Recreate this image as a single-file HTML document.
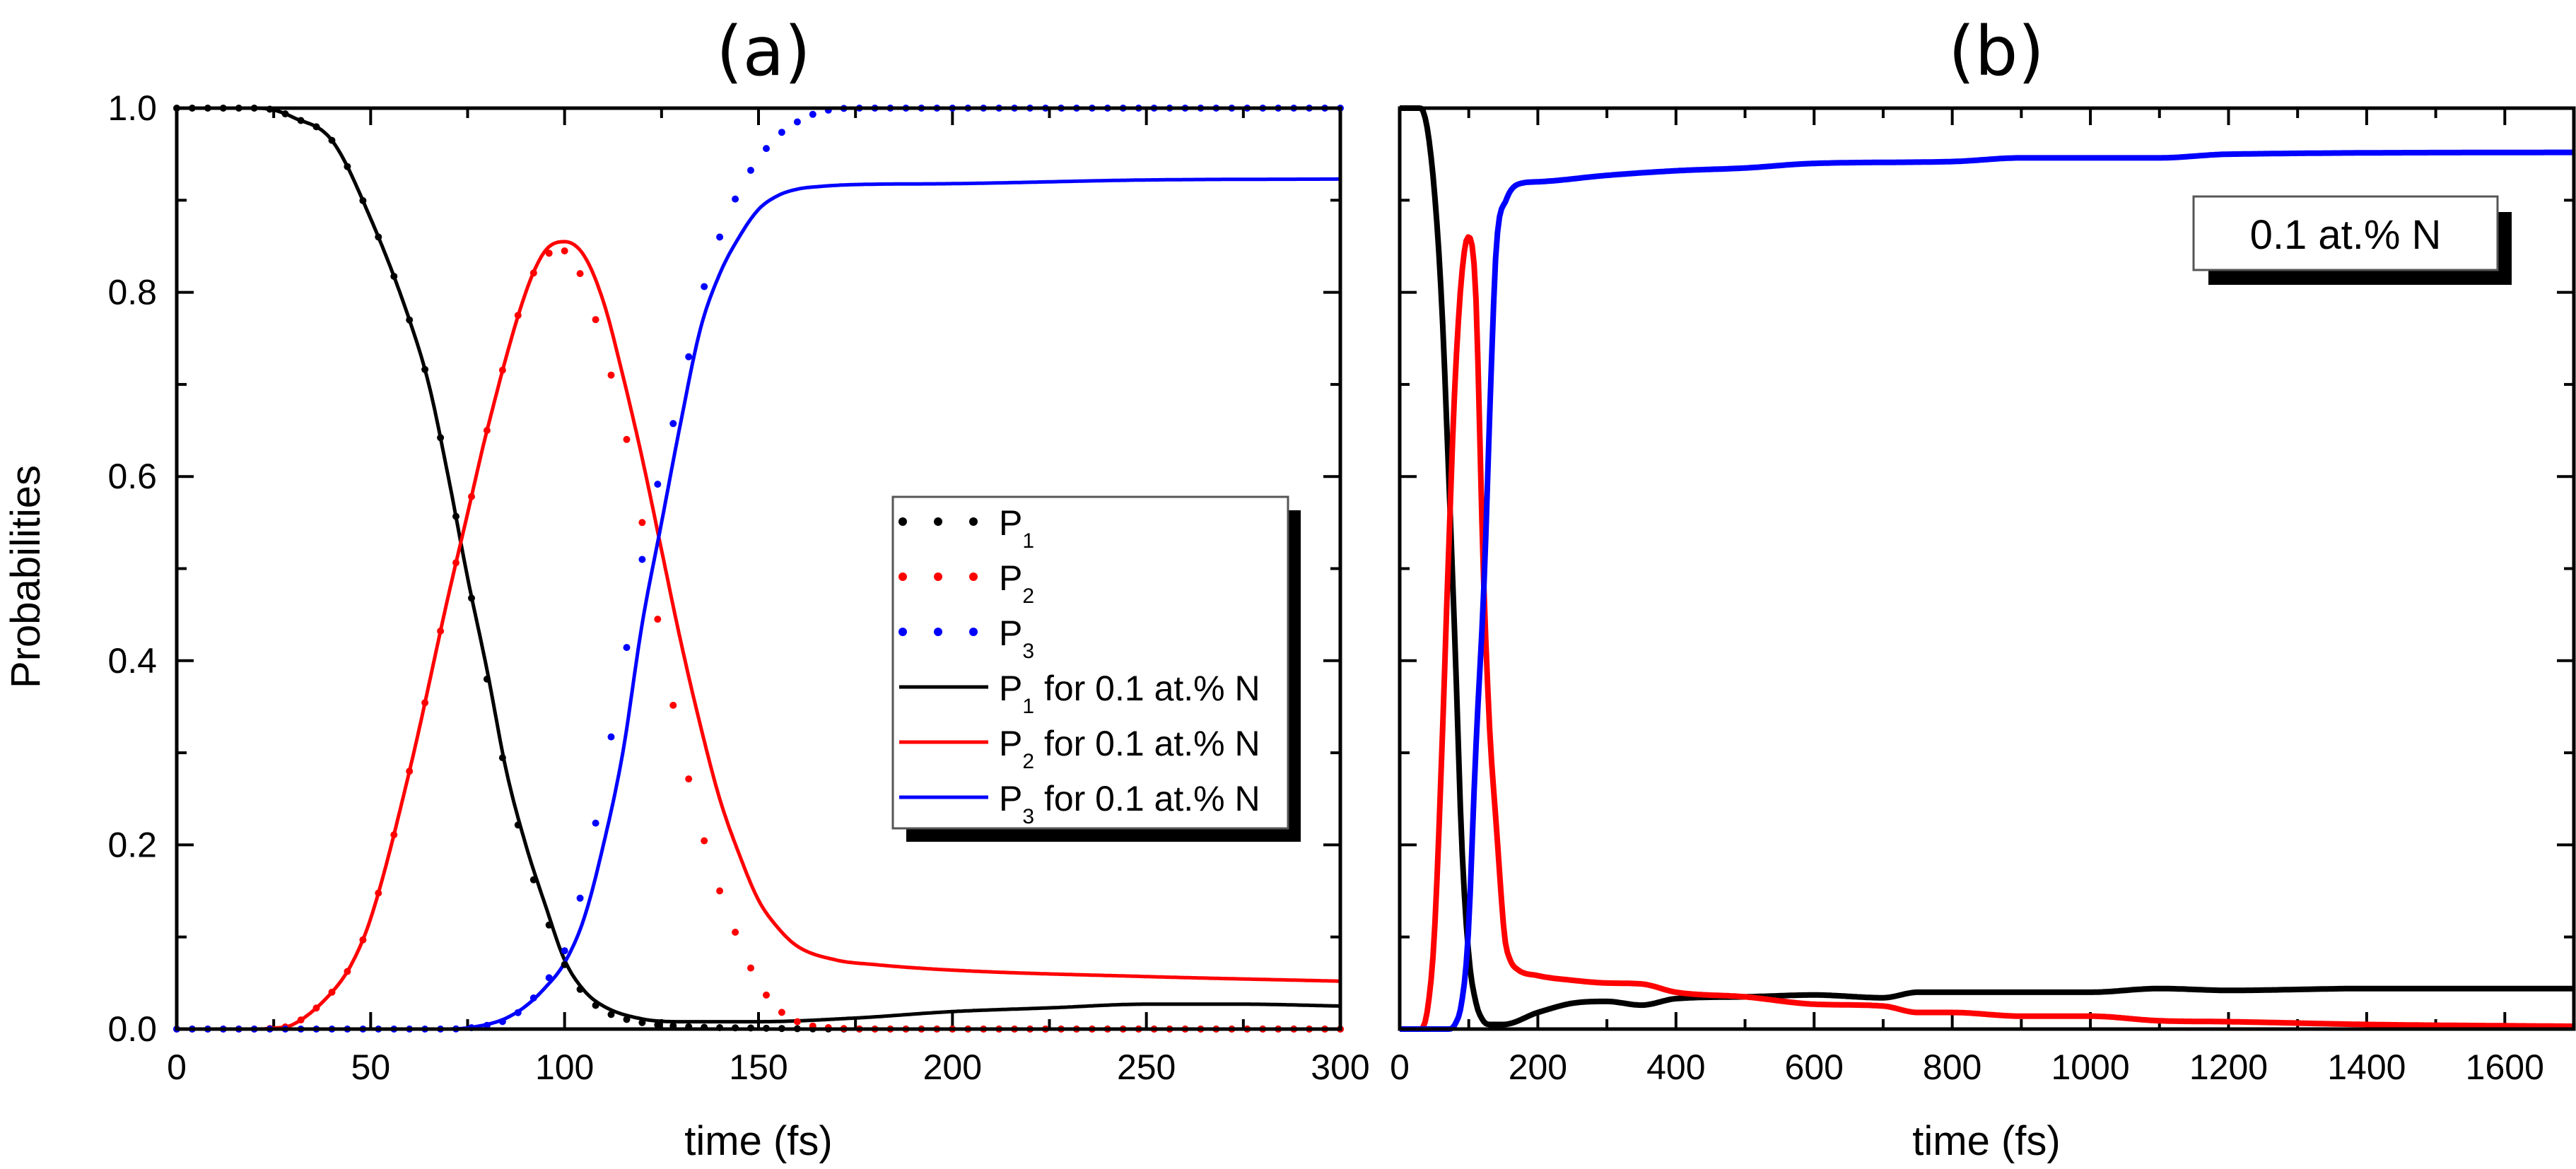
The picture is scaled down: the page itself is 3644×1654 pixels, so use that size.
<!DOCTYPE html>
<html><head><meta charset="utf-8">
<style>
html,body{margin:0;padding:0;background:#fff;}
svg{display:block;}
text{font-family:"Liberation Sans",Arial,sans-serif;fill:#000;}
</style></head>
<body>
<svg id="fig" width="3644" height="1654" viewBox="0 0 3644 1654" xmlns="http://www.w3.org/2000/svg">
<text x="1080" y="106" font-size="96" text-anchor="middle" style="font-family:'DejaVu Sans',sans-serif">(a)</text>
<text x="2824" y="106" font-size="96" text-anchor="middle" style="font-family:'DejaVu Sans',sans-serif">(b)</text>
<text x="1073" y="1634" font-size="58" text-anchor="middle">time (fs)</text>
<text x="2810" y="1634" font-size="58" text-anchor="middle">time (fs)</text>
<text x="0" y="0" font-size="58" text-anchor="middle" transform="translate(56,816) rotate(-90)">Probabilities</text>
<g id="ga"></g>
<g id="gb"></g>
</svg>
<script>
// Panel (a) data
const aT1 = [0,20,25,30,40,50,60,65,70,75,80,85,90,95,100,105,110,120,130,150,175,200,225,250,275,300];
const aP1N = [1,1,0.998,0.99,0.965,0.88,0.77,0.7,0.6,0.49,0.39,0.28,0.2,0.135,0.075,0.042,0.025,0.011,0.008,0.008,0.012,0.019,0.023,0.027,0.027,0.025];
const aP1 = [1,1,0.998,0.99,0.965,0.88,0.77,0.7,0.6,0.49,0.38,0.275,0.19,0.125,0.07,0.038,0.02,0.007,0.003,0.001,0,0,0,0,0,0];
const aT2 = [0,20,25,30,40,45,50,60,70,75,80,90,95,100,105,110,115,120,125,130,135,140,145,150,155,160,170,180,200,250,300];
const aP2N = [0,0,0.001,0.005,0.04,0.07,0.12,0.28,0.47,0.56,0.65,0.8,0.845,0.855,0.84,0.79,0.71,0.62,0.52,0.42,0.33,0.25,0.19,0.14,0.11,0.09,0.075,0.07,0.064,0.057,0.052];
const aP2 = [0,0,0.001,0.005,0.04,0.07,0.12,0.28,0.47,0.56,0.65,0.8,0.84,0.845,0.81,0.74,0.66,0.55,0.42,0.31,0.22,0.15,0.095,0.05,0.022,0.008,0.001,0,0,0,0];
const aT3 = [0,70,80,85,90,95,100,105,110,115,120,125,130,135,140,145,150,155,160,166,175,200,250,300];
const aP3N = [0,0,0.005,0.012,0.025,0.045,0.072,0.12,0.2,0.3,0.44,0.55,0.66,0.76,0.82,0.86,0.89,0.905,0.912,0.915,0.917,0.918,0.922,0.923];
const aP3 = [0,0,0.004,0.01,0.025,0.05,0.085,0.16,0.27,0.39,0.51,0.61,0.69,0.79,0.86,0.91,0.945,0.97,0.985,0.996,1,1,1,1];
// Panel (b) data
const bT1 = [0,30,45,60,70,80,90,100,110,120,130,150,200,250,300,350,400,500,600,700,750,800,1000,1100,1200,1400,1700];
const bP1 = [1,1,0.95,0.8,0.62,0.42,0.2,0.08,0.03,0.01,0.005,0.005,0.018,0.028,0.03,0.026,0.033,0.035,0.037,0.034,0.04,0.04,0.04,0.044,0.042,0.044,0.044];
const bT2 = [0,30,40,50,60,70,80,90,99,110,121,130,140,152,160,170,200,250,300,350,400,500,600,700,750,800,900,1000,1100,1200,1400,1700];
const bP2 = [0,0,0.02,0.1,0.28,0.5,0.7,0.82,0.86,0.8,0.5,0.33,0.22,0.1,0.075,0.065,0.058,0.053,0.05,0.049,0.04,0.035,0.027,0.025,0.018,0.018,0.014,0.014,0.009,0.008,0.005,0.003];
const bT3 = [0,70,80,90,99,110,123,130,140,154,174,200,300,400,500,600,800,900,1100,1200,1700];
const bP3 = [0,0,0.005,0.03,0.1,0.3,0.5,0.66,0.85,0.9,0.918,0.92,0.927,0.932,0.935,0.94,0.942,0.946,0.946,0.95,0.952];
const aXTicks = ["0","50","100","150","200","250","300"];
const bXTicks = ["0","200","400","600","800","1000","1200","1400","1600"];
const yTicks = ["0.0","0.2","0.4","0.6","0.8","1.0"];

const NS="http://www.w3.org/2000/svg";
function mk(tag,attrs,parent){const e=document.createElementNS(NS,tag);for(const k in attrs)e.setAttribute(k,attrs[k]);parent.appendChild(e);return e;}
function interp(xs,ys){
  const n=xs.length,d=[],m=new Array(n);
  for(let i=0;i<n-1;i++)d.push((ys[i+1]-ys[i])/(xs[i+1]-xs[i]));
  m[0]=d[0];m[n-1]=d[n-2];
  for(let i=1;i<n-1;i++){m[i]=(d[i-1]*d[i]<=0)?0:(d[i-1]+d[i])/2;}
  for(let i=0;i<n-1;i++){if(d[i]===0){m[i]=0;m[i+1]=0;continue;}const a=m[i]/d[i],b=m[i+1]/d[i],s=a*a+b*b;if(s>9){const t=3/Math.sqrt(s);m[i]=t*a*d[i];m[i+1]=t*b*d[i];}}
  return function(x){let i=0;while(i<n-2&&x>xs[i+1])i++;const h=xs[i+1]-xs[i],t=(x-xs[i])/h,t2=t*t,t3=t2*t;
    return (2*t3-3*t2+1)*ys[i]+(t3-2*t2+t)*h*m[i]+(-2*t3+3*t2)*ys[i+1]+(t3-t2)*h*m[i+1];};
}
function panel(g,L,R,T,B,xmax,xmaj,xmin,labels,showY,key){
  const sx=v=>L+(v/xmax)*(R-L), sy=v=>B-v*(B-T);
  // ticks
  for(let v=0;v<=xmax+1e-9;v+=xmin){const major=Math.abs(v/xmaj-Math.round(v/xmaj))<1e-6;const len=major?24:14;
    const t1=mk('line',{x1:sx(v),x2:sx(v),y1:B,y2:B-len,stroke:'#000','stroke-width':4},g);
    
    const t2=mk('line',{x1:sx(v),x2:sx(v),y1:T,y2:T+len,stroke:'#000','stroke-width':4},g);
    }
  labels.forEach((s,i)=>{const tx=mk('text',{x:sx(i*xmaj),y:1527,'font-size':50,'text-anchor':'middle'},g);tx.textContent=s;
    });
  for(let k=0;k<=10;k++){const v=k/10,len=(k%2===0)?24:14;
    const a=mk('line',{x1:L,x2:L+len,y1:sy(v),y2:sy(v),stroke:'#000','stroke-width':4},g);
    
    const b=mk('line',{x1:R,x2:R-len,y1:sy(v),y2:sy(v),stroke:'#000','stroke-width':4},g);
    }
  if(showY)yTicks.forEach((s,i)=>{const tx=mk('text',{x:222,y:sy(i*0.2)+17,'font-size':50,'text-anchor':'end'},g);tx.textContent=s;
    });
  return {sx,sy};
}
function curve(g,sc,xs,ys,xmax,color,w,name){
  const f=interp(xs,ys);let d='';
  for(let x=0;x<=xmax;x+=xmax/600){d+=(d?'L':'M')+sc.sx(x).toFixed(1)+','+sc.sy(f(x)).toFixed(1);}
  const p=mk('path',{d:d,fill:'none',stroke:color,'stroke-width':w,'stroke-linejoin':'round'},g);
  
}
function dots(g,sc,xs,ys,xmax,color,name){
  const f=interp(xs,ys);const grp=mk('g',{fill:color},g);
  
  for(let x=0;x<=xmax;x+=4){mk('circle',{cx:sc.sx(x).toFixed(1),cy:sc.sy(f(x)).toFixed(1),r:5},grp);}
}
// Panel a
const ga=document.getElementById('ga');
const A={L:250,R:1896,T:153,B:1456};
const sa=panel(ga,A.L,A.R,A.T,A.B,300,50,25,aXTicks,true,'panel-a');
curve(ga,sa,aT1,aP1N,300,'#000',5,'p1-n-line');
curve(ga,sa,aT2,aP2N,300,'#f00',5,'p2-n-line');
curve(ga,sa,aT3,aP3N,300,'#00f',5,'p3-n-line');
dots(ga,sa,aT1,aP1,300,'#000','p1-dotted');
dots(ga,sa,aT2,aP2,300,'#f00','p2-dotted');
dots(ga,sa,aT3,aP3,300,'#00f','p3-dotted');
const fa=mk('rect',{x:A.L,y:A.T,width:A.R-A.L,height:A.B-A.T,fill:'none',stroke:'#000','stroke-width':5},ga);

// legend a
const lg=mk('g',{},ga);

const sh=mk('rect',{x:1282,y:1172,width:558,height:19,fill:'#000'},lg);

const sh2=mk('rect',{x:1822,y:722,width:18,height:469,fill:'#000'},lg);

const lb=mk('rect',{x:1263,y:703,width:559,height:469,fill:'#fff',stroke:'#555','stroke-width':3},lg);

const entries=[['#000',true,'1',''],['#f00',true,'2',''],['#00f',true,'3',''],['#000',false,'1',' for 0.1 at.% N'],['#f00',false,'2',' for 0.1 at.% N'],['#00f',false,'3',' for 0.1 at.% N']];
entries.forEach((e,i)=>{const y=738+i*78;
  const eg=mk('g',{},lg);
  
  if(e[1]){[1277,1327,1377].forEach(x=>mk('circle',{cx:x,cy:y,r:6,fill:e[0]},eg));}
  else mk('line',{x1:1272,x2:1398,y1:y,y2:y,stroke:e[0],'stroke-width':5},eg);
  const t=mk('text',{x:1413,y:y+19,'font-size':50},eg);
  t.innerHTML='P<tspan font-size="30" dy="18">'+e[2]+'</tspan><tspan dy="-18">'+e[3]+'</tspan>';
});
// Panel b
const gb=document.getElementById('gb');
const Bp={L:1980,R:3641,T:153,B:1456};
const sb=panel(gb,Bp.L,Bp.R,Bp.T,Bp.B,1700,200,100,bXTicks,false,'panel-b');
curve(gb,sb,bT1,bP1,1700,'#000',8,'b-p1-line');
curve(gb,sb,bT2,bP2,1700,'#f00',8,'b-p2-line');
curve(gb,sb,bT3,bP3,1700,'#00f',8,'b-p3-line');
const fb=mk('rect',{x:Bp.L,y:Bp.T,width:Bp.R-Bp.L,height:Bp.B-Bp.T,fill:'none',stroke:'#000','stroke-width':5},gb);

const ib=mk('g',{},gb);

mk('rect',{x:3124,y:300,width:429,height:103,fill:'#000'},ib);
mk('rect',{x:3103,y:278,width:430,height:104,fill:'#fff',stroke:'#555','stroke-width':3},ib);
const it=mk('text',{x:3318,y:352,'font-size':58,'text-anchor':'middle'},ib);
it.textContent='0.1 at.% N';


</script>
</body></html>
